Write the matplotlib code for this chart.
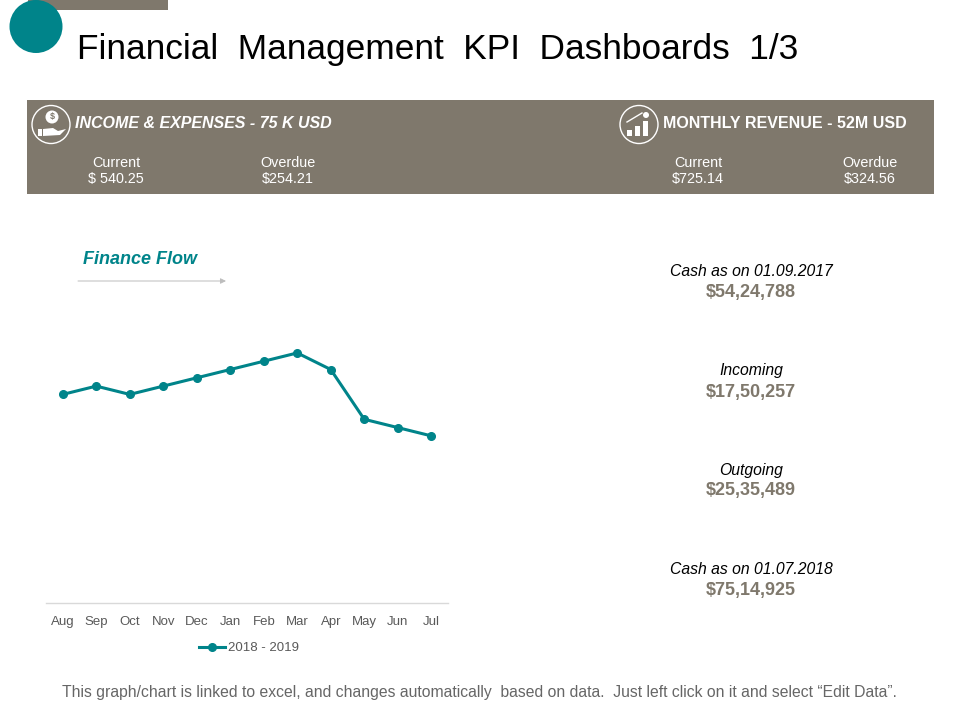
import matplotlib
matplotlib.use('Agg')
import matplotlib.pyplot as plt
from matplotlib.patches import Rectangle, Circle, Polygon

plt.rcParams['font.family'] = ['Liberation Sans', 'DejaVu Sans']

months = ['Aug', 'Sep', 'Oct', 'Nov', 'Dec', 'Jan', 'Feb', 'Mar', 'Apr', 'May', 'Jun', 'Jul']
flow = [15, 16, 15, 16, 17, 18, 19, 20, 18, 12, 11, 10]
series_name = '2018 - 2019'

cash_labels = ['Cash as on 01.09.2017', 'Incoming', 'Outgoing', 'Cash as on 01.07.2018']
cash_values = ['$54,24,788', '$17,50,257', '$25,35,489', '$75,14,925']

income_vals = ['$ 540.25', '$254.21']
revenue_vals = ['$725.14', '$324.56']

teal = '#00848a'
taupe = '#7f786c'

fig = plt.figure(figsize=(9.6, 7.2), dpi=100)

# page overlay in pixels
bg = fig.add_axes([0, 0, 1, 1])
bg.set_xlim(0, 960)
bg.set_ylim(720, 0)
bg.axis('off')

bg.add_patch(Rectangle((28, 0), 140, 10, color=taupe, lw=0))
bg.add_patch(Circle((36, 26.5), 26.5, color=teal, lw=0))
bg.text(77, 49, 'Financial  Management  KPI  Dashboards  1/3', fontsize=25.4, color='black', va='center', ha='left')

# header band
bg.add_patch(Rectangle((27, 100), 907, 94, color=taupe, lw=0))
bg.add_patch(Circle((51, 124.5), 19, fc='none', ec='white', lw=1))
bg.add_patch(Circle((639, 124.5), 19, fc='none', ec='white', lw=1))

# hand + coin icon
bg.add_patch(Circle((52, 117), 6.5, color='white', lw=0))
bg.text(52, 117, '$', color=taupe, fontsize=6.5, fontweight='bold', ha='center', va='center')
bg.add_patch(Rectangle((38, 129), 4, 7, color='white', lw=0))
bg.add_patch(Polygon([(43, 129), (53, 128), (58, 131), (66, 129), (60, 135), (43, 136)], color='white', lw=0))

# bars + coin icon
for bx, bh in zip([627, 635, 643], [6, 10, 15]):
    bg.add_patch(Rectangle((bx, 136 - bh), 5, bh, color='white', lw=0))
bg.plot([627, 637, 642], [122, 116, 113], color='white', lw=1)
bg.add_patch(Circle((646, 115), 3, color='white', lw=0))

bg.text(75, 123, 'INCOME & EXPENSES - 75 K USD', color='white', fontsize=11.5, fontweight='bold', style='italic', va='center')
bg.text(663, 123, 'MONTHLY REVENUE - 52M USD', color='white', fontsize=11.5, fontweight='bold', va='center')

for cx, head, val in [(116, 'Current', income_vals[0]), (288, 'Overdue', income_vals[1]),
                      (698, 'Current', revenue_vals[0]), (870, 'Overdue', revenue_vals[1])]:
    bg.text(cx, 163, head, color='white', fontsize=10.4, ha='center', va='center')
    bg.text(cx, 179, val, color='white', fontsize=10.4, ha='center', va='center')

# finance flow heading
bg.text(83, 259, 'Finance Flow', color=teal, fontsize=13, fontweight='bold', style='italic', va='center')
bg.annotate('', xy=(226, 281), xytext=(78, 281),
            arrowprops=dict(arrowstyle='-|>', color='#bdbdbd', lw=0.7, mutation_scale=8, shrinkA=0, shrinkB=0))

# right hand figures
for yy, lab, val in zip([272, 371, 470, 569], cash_labels, cash_values):
    bg.text(751, yy, lab, color='black', fontsize=11.3, style='italic', ha='center', va='center')
    bg.text(751, yy + 21, val, color=taupe, fontsize=13, fontweight='bold', ha='center', va='center')

bg.text(479, 693, 'This graph/chart is linked to excel, and changes automatically  based on data.  Just left click on it and select \u201cEdit Data\u201d.',
        color='#666666', fontsize=11.35, ha='center', va='center')

# line chart
ax = fig.add_axes([46 / 960, 1 - 603 / 720, 402 / 960, 333 / 720])
ax.patch.set_alpha(0)
ax.plot(months, flow, color=teal, lw=2.2, marker='o', ms=5.5, label=series_name)
ax.set_xlim(-0.5, 11.5)
ax.set_ylim(-10.15, 30)
ax.set_yticks([])
for s in ['top', 'left', 'right']:
    ax.spines[s].set_visible(False)
ax.spines['bottom'].set_color('#d9d9d9')
ax.spines['bottom'].set_linewidth(1)
ax.tick_params(axis='x', length=0, pad=15.5, labelsize=9.5, labelcolor='#595959')
for lab in ax.get_xticklabels():
    lab.set_va('baseline')
ax.legend(loc='upper center', bbox_to_anchor=(0.505, -0.098), frameon=False, fontsize=9.5,
          labelcolor='#595959', handlelength=2.0, handletextpad=0.25, borderpad=0)

fig.savefig('out.png', dpi=100)
